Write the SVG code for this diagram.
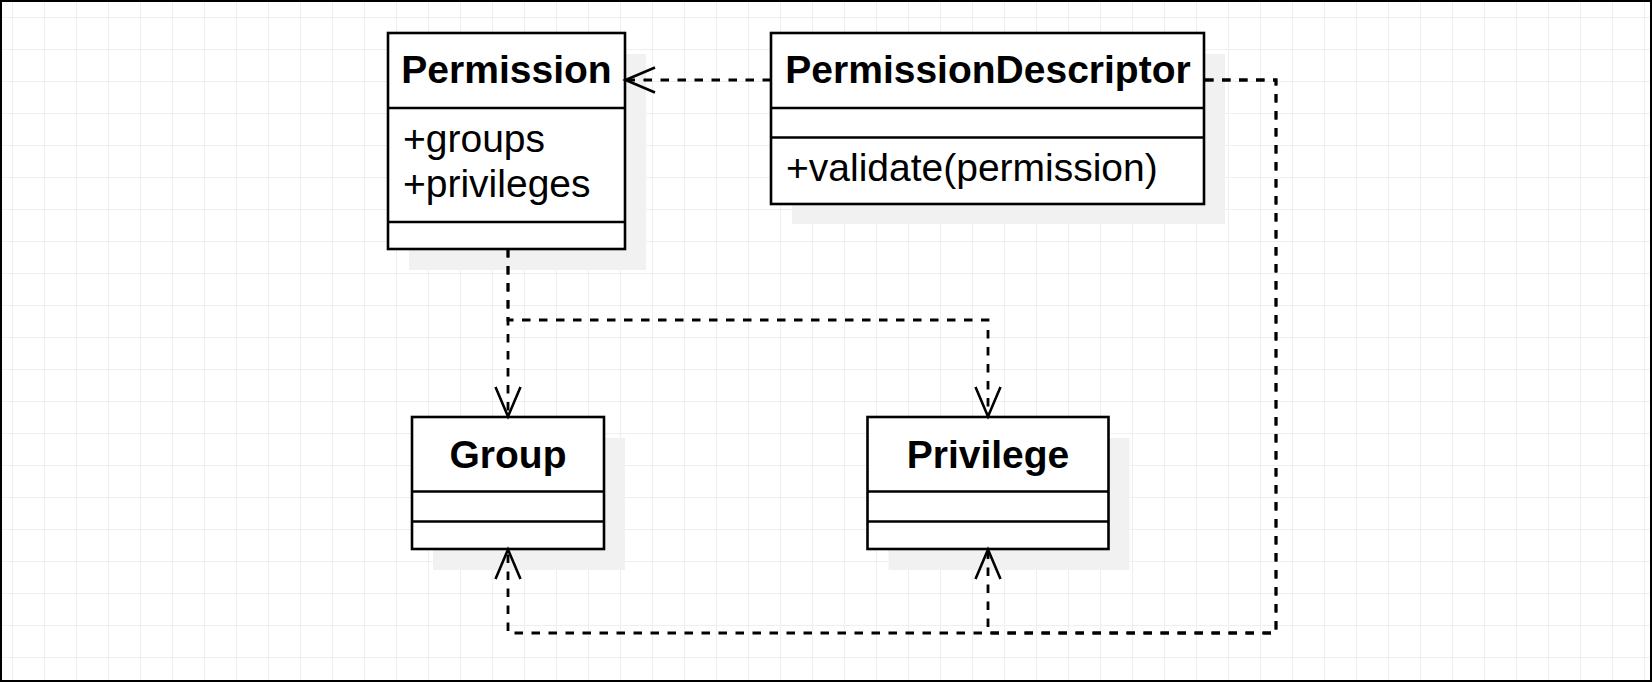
<svg xmlns="http://www.w3.org/2000/svg" width="1652" height="682" viewBox="0 0 1652 682">
  <style>
    .box { fill: #ffffff; stroke: #000000; stroke-width: 2.6; }
    .div { stroke: #000000; stroke-width: 2.6; fill: none; }
    .shadow { fill: #f1f1f1; stroke: none; }
    .title { font-family: "Liberation Sans", Arial, sans-serif; font-size: 39px; font-weight: bold; fill: #000000; text-anchor: middle; }
    .member { font-family: "Liberation Sans", Arial, sans-serif; font-size: 39px; fill: #000000; }
    .edge { fill: none; stroke: #000000; stroke-width: 2.8; stroke-dasharray: 8.5 8.5; }
    .arrow { fill: none; stroke: #000000; stroke-width: 2.6; stroke-dasharray: none; }
  </style>
  <defs>
    <pattern id="grid" x="12" y="17" width="32" height="32" patternUnits="userSpaceOnUse">
      <path d="M0.5 0 V32 M0 0.5 H32" fill="none" stroke="#efefef" stroke-width="1"/>
    </pattern>
  </defs>

  <rect x="0" y="0" width="1652" height="682" fill="#ffffff"/>
  <rect x="0" y="0" width="1652" height="682" fill="url(#grid)"/>
  <rect x="1" y="1" width="1650" height="680" fill="none" stroke="#000000" stroke-width="2"/>

  <g id="Permission">
    <rect class="shadow" x="409" y="54" width="237" height="216"/>
    <rect class="box" x="388" y="33" width="237" height="216"/>
    <line class="div" x1="388" y1="108" x2="625" y2="108"/>
    <line class="div" x1="388" y1="222" x2="625" y2="222"/>
    <text class="title" x="506.5" y="83">Permission</text>
    <text class="member" x="403" y="152">+groups</text>
    <text class="member" x="403" y="197">+privileges</text>
  </g>

  <g id="PermissionDescriptor">
    <rect class="shadow" x="792" y="54" width="433" height="170"/>
    <rect class="box" x="771" y="33" width="433" height="171"/>
    <line class="div" x1="771" y1="108" x2="1204" y2="108"/>
    <line class="div" x1="771" y1="137.5" x2="1204" y2="137.5"/>
    <text class="title" x="988" y="83">PermissionDescriptor</text>
    <text class="member" x="786" y="181">+validate(permission)</text>
  </g>

  <g id="Group">
    <rect class="shadow" x="433" y="438" width="192" height="132"/>
    <rect class="box" x="412" y="417" width="192" height="132"/>
    <line class="div" x1="412" y1="491.5" x2="604" y2="491.5"/>
    <line class="div" x1="412" y1="521.5" x2="604" y2="521.5"/>
    <text class="title" x="508" y="468">Group</text>
  </g>

  <g id="Privilege">
    <rect class="shadow" x="888.5" y="438" width="241" height="132"/>
    <rect class="box" x="867.5" y="417" width="241" height="132"/>
    <line class="div" x1="867.5" y1="491.5" x2="1108.5" y2="491.5"/>
    <line class="div" x1="867.5" y1="521.5" x2="1108.5" y2="521.5"/>
    <text class="title" x="988" y="468">Privilege</text>
  </g>

  <g id="connectors">
    <path class="edge" d="M771 80 H626"/>
    <path class="arrow" d="M655 67.5 L625.5 80 L655 92.5"/>
    <path class="edge" d="M508 249 V416"/>
    <path class="arrow" d="M495.5 387 L508 416.5 L520.5 387"/>
    <path class="edge" d="M508 249 V320 H988 V416"/>
    <path class="arrow" d="M975.5 387 L988 416.5 L1000.5 387"/>
    <path class="edge" d="M1205 80 H1276 V633 H508 V550"/>
    <path class="arrow" d="M495.5 579 L508 549.5 L520.5 579"/>
    <path class="edge" d="M1205 80 H1276 V633 H988 V550"/>
    <path class="arrow" d="M975.5 579 L988 549.5 L1000.5 579"/>
  </g>
</svg>
